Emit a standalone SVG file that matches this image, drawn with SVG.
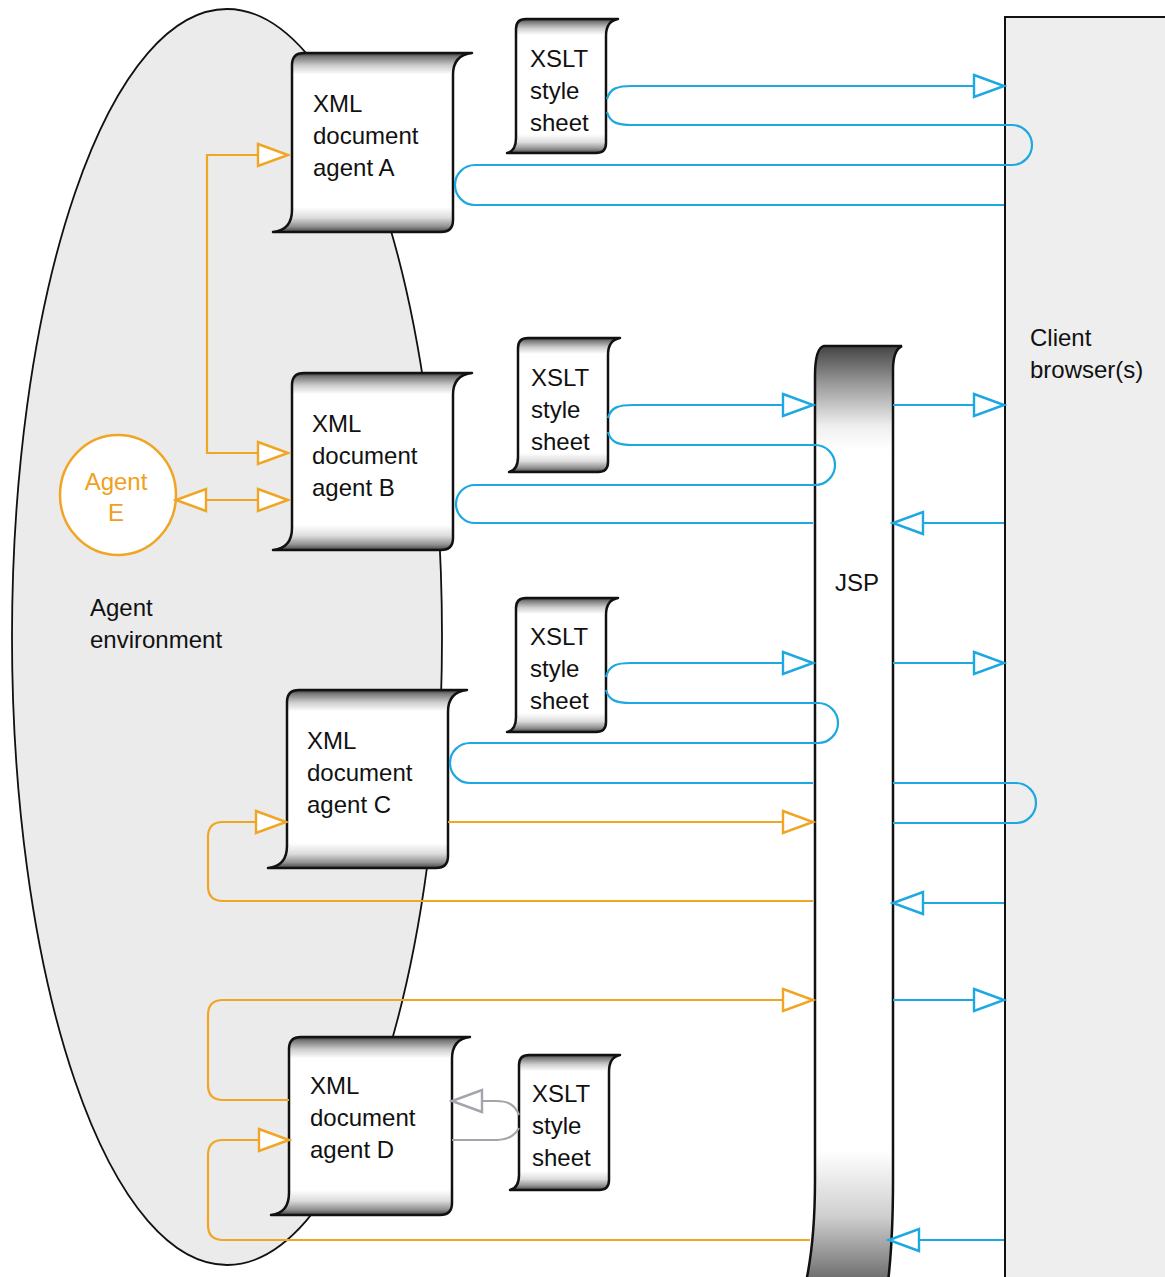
<svg xmlns="http://www.w3.org/2000/svg" width="1165" height="1277" viewBox="0 0 1165 1277">
<style>
.t{font-family:"Liberation Sans",Arial,sans-serif;font-size:24px;fill:#111}
.to{font-family:"Liberation Sans",Arial,sans-serif;font-size:24px;fill:#f0a020}
.scroll{fill:url(#sg);stroke:#111;stroke-width:2.5;stroke-linejoin:round}
.b{fill:none;stroke:#1ea8e2;stroke-width:2.2}
.o{fill:none;stroke:#f0a524;stroke-width:2.2}
.g{fill:none;stroke:#a4a4ac;stroke-width:2.2}
</style>
<defs>
<linearGradient id="sg" x1="0" y1="0" x2="0" y2="1">
<stop offset="0" stop-color="#333"/>
<stop offset="0.02" stop-color="#777"/>
<stop offset="0.07" stop-color="#cdcdcd"/>
<stop offset="0.12" stop-color="#fff"/>
<stop offset="0.86" stop-color="#fff"/>
<stop offset="0.92" stop-color="#dcdcdc"/>
<stop offset="0.97" stop-color="#909090"/>
<stop offset="1" stop-color="#444"/>
</linearGradient>
<linearGradient id="jg" x1="0" y1="0" x2="0" y2="1">
<stop offset="0" stop-color="#444"/>
<stop offset="0.04" stop-color="#999"/>
<stop offset="0.085" stop-color="#eee"/>
<stop offset="0.11" stop-color="#fff"/>
<stop offset="0.86" stop-color="#fff"/>
<stop offset="0.93" stop-color="#cfcfcf"/>
<stop offset="1" stop-color="#6a6a6a"/>
</linearGradient>
<marker id="ab" markerUnits="userSpaceOnUse" viewBox="-3 -3 36 28" markerWidth="36" markerHeight="28" refX="30" refY="11" orient="auto-start-reverse"><path d="M0,0 L30,11 L0,22 Z" fill="#fff" stroke="#1ea8e2" stroke-width="2.4"/></marker>
<marker id="ao" markerUnits="userSpaceOnUse" viewBox="-3 -3 36 28" markerWidth="36" markerHeight="28" refX="30" refY="11" orient="auto-start-reverse"><path d="M0,0 L30,11 L0,22 Z" fill="#fff" stroke="#f0a524" stroke-width="2.4"/></marker>
<marker id="ag" markerUnits="userSpaceOnUse" viewBox="-3 -3 36 28" markerWidth="36" markerHeight="28" refX="30" refY="11" orient="auto-start-reverse"><path d="M0,0 L30,11 L0,22 Z" fill="#fff" stroke="#a4a4ac" stroke-width="2.4"/></marker>
</defs>

<g id="agent-environment">
<ellipse cx="227" cy="637" rx="215" ry="628" fill="#ebebeb" stroke="#111" stroke-width="1.8"/>
<text class="t" x="90" y="616">Agent</text>
<text class="t" x="90" y="648">environment</text>
</g>

<g id="client-browser">
<rect x="1005" y="17" width="175" height="1275" fill="#eeeeee" stroke="#111" stroke-width="2"/>
<text class="t" x="1030" y="346">Client</text>
<text class="t" x="1030" y="378">browser(s)</text>
</g>

<g id="jsp">
<path d="M824,346 H902 Q893,350 893,370 V1180 Q893,1240 888,1282 H806 Q815,1240 815,1180 V376 Q815,348 824,346 Z" fill="url(#jg)" stroke="#111" stroke-width="2.5"/>
<text class="t" x="835" y="591">JSP</text>
</g>

<g id="agent-a">
<path class="scroll" d="M304,53 H472 Q453,55 453,75 V220 Q453,232 441,232 H273 Q292,230 292,210 V65 Q292,53 304,53 Z"/>
<text class="t" x="313" y="112">XML</text>
<text class="t" x="313" y="144">document</text>
<text class="t" x="313" y="176">agent A</text>
</g>

<g id="agent-b">
<path class="scroll" d="M304,373 H472 Q453,375 453,395 V538 Q453,550 441,550 H273 Q292,548 292,528 V385 Q292,373 304,373 Z"/>
<text class="t" x="312" y="432">XML</text>
<text class="t" x="312" y="464">document</text>
<text class="t" x="312" y="496">agent B</text>
</g>

<g id="agent-c">
<path class="scroll" d="M299,690 H467 Q448,692 448,712 V856 Q448,868 436,868 H268 Q287,866 287,846 V702 Q287,690 299,690 Z"/>
<text class="t" x="307" y="749">XML</text>
<text class="t" x="307" y="781">document</text>
<text class="t" x="307" y="813">agent C</text>
</g>

<g id="agent-d">
<path class="scroll" d="M301,1037 H470 Q452,1039 452,1059 V1203 Q452,1215 440,1215 H271 Q289,1213 289,1193 V1049 Q289,1037 301,1037 Z"/>
<text class="t" x="310" y="1094">XML</text>
<text class="t" x="310" y="1126">document</text>
<text class="t" x="310" y="1158">agent D</text>
</g>

<g id="agent-e">
<ellipse cx="118" cy="495" rx="58" ry="60" fill="#fff" stroke="#f0a524" stroke-width="2.5"/>
<text class="to" x="116" y="490" text-anchor="middle">Agent</text>
<text class="to" x="116" y="521" text-anchor="middle">E</text>
</g>

<g id="xslt-1">
<path class="scroll" d="M526,19 H618 Q606,21 606,36 V143 Q606,153 596,153 H507 Q516,151 516,138 V29 Q516,19 526,19 Z"/>
<text class="t" x="530" y="67">XSLT</text>
<text class="t" x="530" y="99">style</text>
<text class="t" x="530" y="131">sheet</text>
</g>

<g id="xslt-2">
<path class="scroll" d="M528,338 H620 Q608,340 608,355 V462 Q608,472 598,472 H509 Q518,470 518,457 V348 Q518,338 528,338 Z"/>
<text class="t" x="531" y="386">XSLT</text>
<text class="t" x="531" y="418">style</text>
<text class="t" x="531" y="450">sheet</text>
</g>

<g id="xslt-3">
<path class="scroll" d="M526,598 H618 Q606,600 606,615 V722 Q606,732 596,732 H507 Q516,730 516,717 V608 Q516,598 526,598 Z"/>
<text class="t" x="530" y="645">XSLT</text>
<text class="t" x="530" y="677">style</text>
<text class="t" x="530" y="709">sheet</text>
</g>

<g id="xslt-4">
<path class="scroll" d="M529,1055 H620 Q609,1057 609,1072 V1180 Q609,1190 599,1190 H510 Q519,1188 519,1175 V1065 Q519,1055 529,1055 Z"/>
<text class="t" x="532" y="1102">XSLT</text>
<text class="t" x="532" y="1134">style</text>
<text class="t" x="532" y="1166">sheet</text>
</g>

<g id="connectors">
<path class="b" d="M607,99 C610,88 618,86 632,86 H1004" marker-end="url(#ab)"/>
<path class="b" d="M607,112 C610,123 618,125 632,125 H1012 A20,20 0 0 1 1012,165 H475 A20,20 0 0 0 475,205 H1004"/>
<path class="b" d="M608,418 C611,407 619,405 633,405 H813" marker-end="url(#ab)"/>
<path class="b" d="M608,432 C611,443 619,445 633,445 H815 A20,20 0 0 1 815,485 H475 A19,19 0 0 0 475,523 H813"/>
<path class="b" d="M893,405 H1004" marker-end="url(#ab)"/>
<path class="b" d="M1004,523 H893" marker-end="url(#ab)"/>
<path class="b" d="M606,677 C609,665 617,663 631,663 H813" marker-end="url(#ab)"/>
<path class="b" d="M606,690 C609,701 617,703 631,703 H818 A20,20 0 0 1 818,743 H470 A20,20 0 0 0 470,783 H813"/>
<path class="b" d="M893,663 H1004" marker-end="url(#ab)"/>
<path class="b" d="M893,783 H1016 A20,20 0 0 1 1016,823 H893"/>
<path class="b" d="M1004,903 H893" marker-end="url(#ab)"/>
<path class="b" d="M893,1000 H1004" marker-end="url(#ab)"/>
<path class="b" d="M1004,1240 H889" marker-end="url(#ab)"/>
<path class="o" d="M288,155 H207 V453 H288" marker-start="url(#ao)" marker-end="url(#ao)"/>
<path class="o" d="M176,500 H288" marker-start="url(#ao)" marker-end="url(#ao)"/>
<path class="o" d="M448,822 H813" marker-end="url(#ao)"/>
<path class="o" d="M813,901 H223 Q208,901 208,886 V837 Q208,822 223,822 H286" marker-end="url(#ao)"/>
<path class="o" d="M289,1100 H223 Q208,1100 208,1085 V1015 Q208,1000 223,1000 H813" marker-end="url(#ao)"/>
<path class="o" d="M810,1240 H223 Q208,1240 208,1225 V1155 Q208,1140 223,1140 H289" marker-end="url(#ao)"/>
<path class="g" d="M519,1115 C514,1103 506,1101 496,1101 H452" marker-end="url(#ag)"/>
<path class="g" d="M452,1140 H497 C507,1140 514,1137 519,1128"/>
</g>
</svg>
